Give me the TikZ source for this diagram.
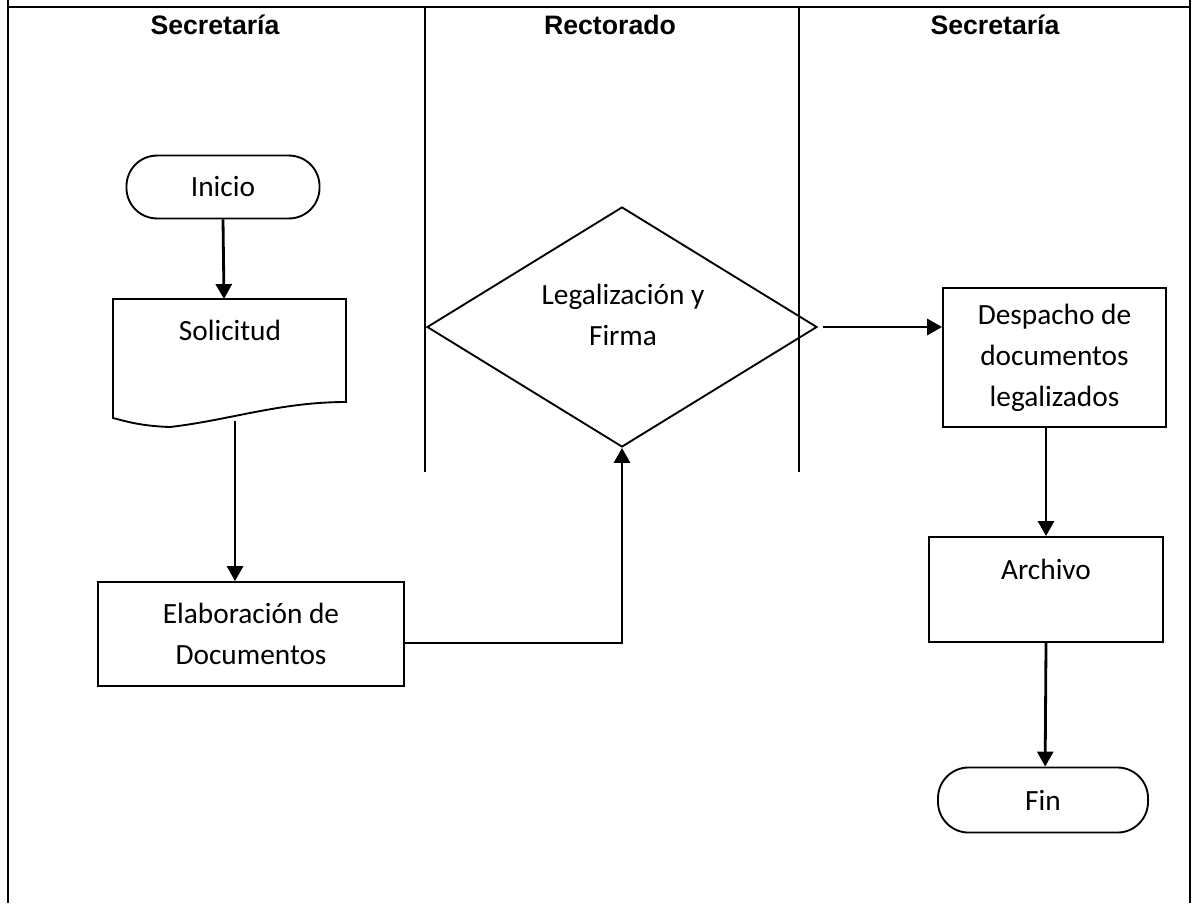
\documentclass[tikz,border=0pt]{standalone}
\usepackage{fontspec}
\setmainfont{Carlito}
\newfontfamily\headfont{Liberation Sans}
\usetikzlibrary{arrows.meta,shapes.geometric}

\begin{document}
\begin{tikzpicture}[
        x=0.375pt, y=-0.375pt,
        frame_style/.style={line width=1pt},
        lane_style/.style={line width=0.75pt},
        head_style/.style={font=\headfont\bfseries\fontsize{10}{12}\selectfont},
        box_style/.style={draw, line width=0.7pt, rectangle, inner sep=0pt, align=center, font=\fontsize{11}{15.4}\selectfont},
        term_style/.style={box_style, rounded corners=11.5pt},
        text_style/.style={align=center, inner sep=0pt, font=\fontsize{11}{15.4}\selectfont},
        arrow_style/.style={line width=1.05pt, -{Triangle[length=5.6pt, width=6pt]}}
    ]
        \useasboundingbox (0,0) rectangle (1196,903);

        % Frame and lanes
        \draw[frame_style] (8,0) -- (8,903);
        \draw[frame_style] (1190,0) -- (1190,903);
        \draw[frame_style] (8,7) -- (1190,7);
        \draw[lane_style] (425,7) -- (425,472);
        \draw[lane_style] (799,7) -- (799,472);

        % Headers
        \node[head_style] (sec_a) at (215,25) {Secretaría};
        \node[head_style] (rect) at (610,25) {Rectorado};
        \node[head_style] (sec_b) at (995,25) {Secretaría};

        % Coordinates
        \coordinate (sol_top) at (224,299);
        \coordinate (sol_bot) at (235,421);

        % Nodes
        \node[term_style, minimum width=72.4pt, minimum height=23.6pt] (inicio) at (223,187) {Inicio};
        \draw[line width=0.7pt] (113,299) -- (346,299) -- (346,402)
            .. controls (280,402) and (230,420) .. (170,427)
            .. controls (140,426) and (125,421) .. (113,418) -- cycle;
        \node[text_style] (solicitud) at (230,330) {Solicitud};
        \node[box_style, minimum width=114.75pt, minimum height=39pt] (elab) at (251,634) {Elaboración de\\Documentos};
        \node[draw, diamond, line width=0.7pt, inner sep=0pt, minimum width=146.25pt, minimum height=90pt] (legal) at (622,327) {};
        \node[text_style] (legal_text) at (623,315) {Legalización y\\Firma};
        \node[box_style, minimum width=83.6pt, minimum height=52.1pt] (despacho) at (1054.5,357.5) {Despacho de\\documentos\\legalizados};
        \node[box_style, minimum width=87.75pt, minimum height=39.4pt] (archivo) at (1046,589.5) {};
        \node[text_style] (archivo_text) at ([yshift=-12.4pt]archivo.north) {Archivo};
        \node[term_style, minimum width=78.75pt, minimum height=24.4pt] (fin) at (1043,800) {Fin};

        % Connectors
        \draw[arrow_style] (inicio.south) -- (sol_top);
        \draw[arrow_style] (sol_bot) -- (sol_bot |- elab.north);
        \draw[arrow_style] ([yshift=-3.4pt]elab.east) -| (legal.south);
        \draw[arrow_style] ([xshift=2pt]legal.east) -- (legal.east -| despacho.west);
        \draw[arrow_style] (archivo.north |- despacho.south) -- (archivo.north);
        \draw[arrow_style] (archivo.south) -- ([xshift=0.8pt]fin.north);
    \end{tikzpicture}
\end{document}
